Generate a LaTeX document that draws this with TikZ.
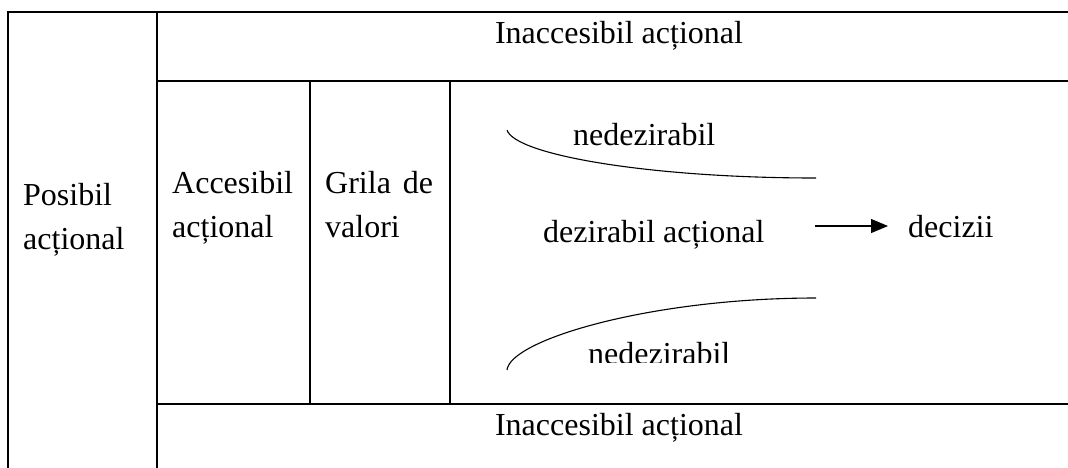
\documentclass[tikz,border=0pt]{standalone}
\usepackage{fontspec}
\setmainfont{Liberation Serif}
\usetikzlibrary{arrows.meta}
\begin{document}
\begin{tikzpicture}[x=1pt,y=-1pt,
  grid/.style={line width=1.6pt,line cap=rect},
  lbl/.style={inner sep=0pt,font=\fontsize{32}{38}\selectfont},
  thin/.style={line width=1.1pt}]
\useasboundingbox[fill=white] (0,0) rectangle (1068,467);
% table lines
\draw[grid] (8,467) -- (8,12) -- (1068,12);
\draw[grid] (157,12) -- (157,467);
\draw[grid] (157,81) -- (1068,81);
\draw[grid] (157,404) -- (1068,404);
\draw[grid] (310,81) -- (310,404);
\draw[grid] (450,81) -- (450,404);
% texts
\node[lbl,anchor=base] (inacTop) at (619,43) {Inaccesibil acțional};
\node[lbl,anchor=base] (inacBot) at (619,435) {Inaccesibil acțional};
\node[lbl,anchor=base west] (pos1) at (23,205) {Posibil};
\node[lbl,anchor=base west] (pos2) at (23,249) {acțional};
\node[lbl,anchor=base west] (acc1) at (172,193) {Accesibil};
\node[lbl,anchor=base west] (acc2) at (172,237) {acțional};
\node[lbl,anchor=base west] (gri1) at (325,193) {\makebox[108pt][s]{Grila de}};
\node[lbl,anchor=base west] (gri2) at (325,237) {valori};
\node[lbl,anchor=base west] (nedTop) at (573,145) {nedezirabil};
\node[lbl,anchor=base west] (dez) at (543,242) {dezirabil acțional};
\node[lbl,anchor=base west] (dec) at (908,237) {decizii};
\begin{scope}
  \clip (560,320) rectangle (780,362);
  \node[lbl,anchor=base west] (nedBot) at (588,364) {nedezirabil};
\end{scope}
% curves
\draw[thin] (507,130) .. controls (515,155) and (650,178) .. (816,178);
\draw[thin] (507,370) .. controls (510,340) and (650,298) .. (816,298);
% arrow
\coordinate (arrS) at (815,226);
\coordinate (arrE) at (888,226);
\draw[thin,-{Triangle[length=17pt,width=14pt]}] (arrS) -- (arrE);
\end{tikzpicture}
\end{document}
